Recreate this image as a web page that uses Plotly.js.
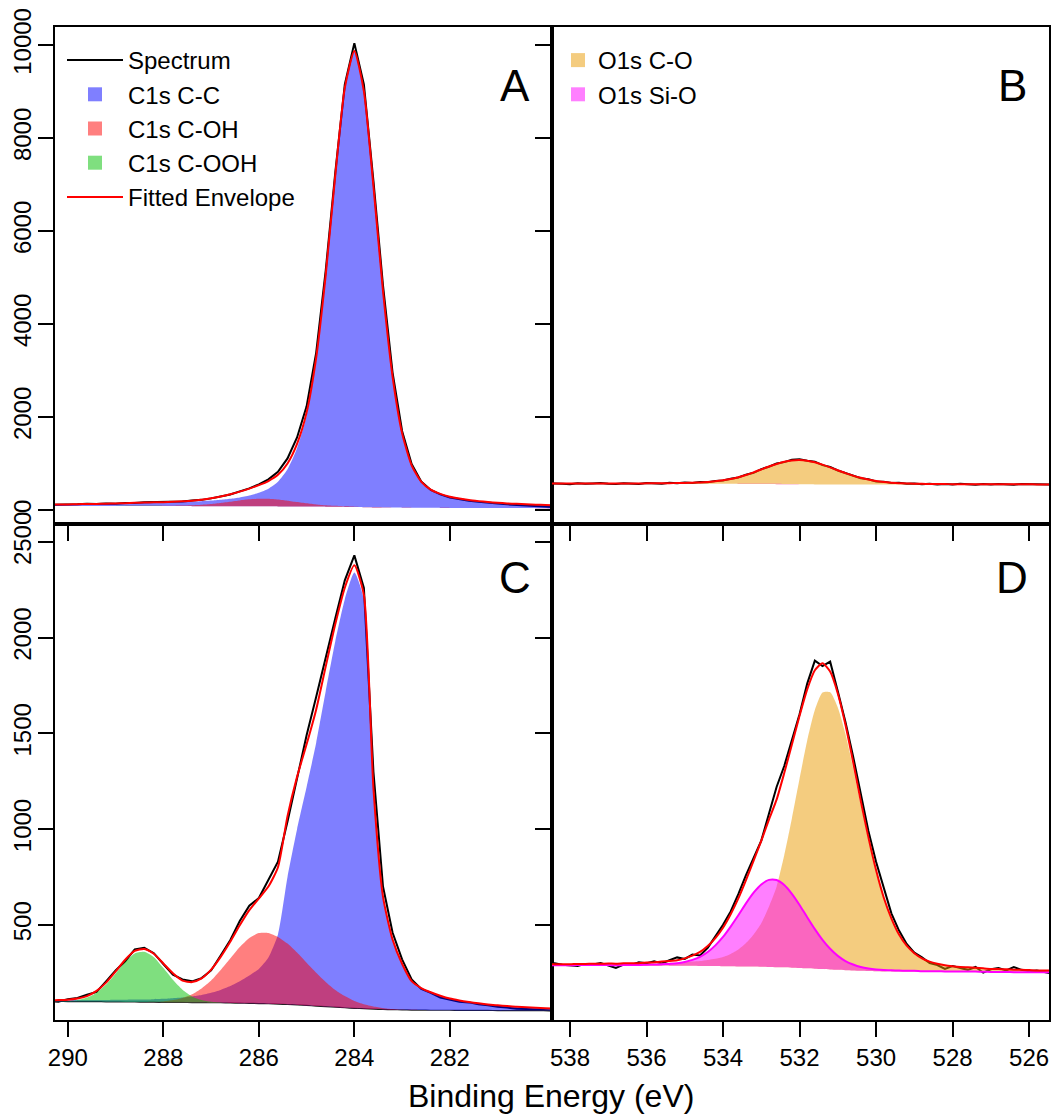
<!DOCTYPE html>
<html><head><meta charset="utf-8">
<script src="https://cdn.plot.ly/plotly-3.0.1.min.js"></script>
<style>html,body{margin:0;padding:0;background:#fff}#chart{width:1055px;height:1118px}</style>
</head><body><div id="chart"></div>
<script>
// ---------- C1s energies (eV) ----------
const c1sEnergy = [290.4,290.2,290.0,289.8,289.6,289.4,289.2,289.0,288.8,288.6,288.4,288.2,288.0,287.8,287.6,287.4,287.2,287.0,286.8,286.6,286.4,286.2,286.0,285.8,285.6,285.4,285.2,285.0,284.8,284.6,284.4,284.2,284.0,283.8,283.6,283.4,283.2,283.0,282.8,282.6,282.4,282.2,282.0,281.8,281.6,281.4,281.2,281.0,280.8,280.6,280.4,280.2,280.0,279.8];
// ---------- O1s energies (eV) ----------
const o1sEnergy = [538.6,538.4,538.2,538.0,537.8,537.6,537.4,537.2,537.0,536.8,536.6,536.4,536.2,536.0,535.8,535.6,535.4,535.2,535.0,534.8,534.6,534.4,534.2,534.0,533.8,533.6,533.4,533.2,533.0,532.8,532.6,532.4,532.2,532.0,531.8,531.6,531.4,531.2,531.0,530.8,530.6,530.4,530.2,530.0,529.8,529.6,529.4,529.2,529.0,528.8,528.6,528.4,528.2,528.0,527.8,527.6,527.4,527.2,527.0,526.8,526.6,526.4,526.2,526.0,525.8,525.6,525.4];

// ---------- Panel A (C1s) ----------
const specA = [110,112,118,122,135,128,140,137,152,150,165,170,166,180,185,205,218,250,288,335,400,465,550,660,820,1110,1560,2230,3380,5150,7250,9150,10040,9150,7080,4830,2960,1700,990,615,430,335,270,232,200,176,152,138,122,110,96,88,74,62];
const envA = [117,119,121,125,128,131,135,141,147,154,160,165,169,177,187,200,222,251,290,338,395,459,534,623,756,1001,1422,2095,3271,5053,7189,9079,9872,9006,6962,4709,2876,1653,961,609,438,347,285,245,214,191,171,156,142,132,123,115,109,103];
const bgA = [85,85,85,85,85,85,85,85,85,85,85,85,84,84,84,83,83,83,82,82,81,81,80,79,78,77,76,75,73,71,68,65,62,59,56,54,52,50,48,47,46,45,44,44,43,43,42,42,41,41,41,40,40,40];
const ccA = [116,118,120,123,126,129,132,136,140,144,149,154,159,165,172,179,190,203,220,242,271,311,370,459,608,877,1326,2025,3223,5021,7168,9065,9862,8999,6956,4704,2872,1650,958,607,436,345,284,244,213,190,170,155,141,131,122,114,108,102];
const cohA = [86,86,86,87,87,87,87,88,88,89,90,91,91,94,98,104,115,131,152,178,205,229,244,243,226,201,172,145,121,103,89,79,72,66,62,59,56,53,51,49,48,47,45,45,44,44,43,43,42,42,42,41,41,41];
const coohA = [85,85,85,85,85,85,86,87,89,91,91,90,87,86,85,83,83,83,82,82,81,81,80,79,78,77,76,75,73,71,68,65,62,59,56,54,52,50,48,47,46,45,44,44,43,43,42,42,41,41,41,40,40,40];

// ---------- Panel C (C1s) ----------
const specC = [102,98,112,118,135,150,205,262,310,372,380,352,295,240,215,205,222,262,340,420,520,600,640,735,830,1040,1270,1490,1690,1900,2100,2300,2430,2260,1300,700,460,320,215,165,145,120,110,98,95,85,80,72,68,62,60,58,55,52];
const envC = [105,107,109,115,128,155,198,257,318,364,374,349,298,247,209,201,220,266,333,412,498,577,638,700,801,1068,1273,1443,1624,1849,2070,2261,2378,2223,1213,647,424,297,206,170,148,130,115,105,97,90,84,80,76,72,70,67,64,62];
const bgC = [100,100,99,99,99,99,98,98,97,97,96,96,95,95,95,94,94,93,93,92,91,90,89,88,86,84,82,79,76,73,70,67,64,62,60,58,57,56,55,55,54,54,54,53,53,53,53,52,52,52,52,52,52,52];
const ccC = [105,106,106,107,107,108,108,109,109,110,110,112,114,117,120,126,133,145,160,180,205,235,270,330,450,750,1000,1220,1450,1720,1980,2200,2340,2200,1200,640,420,295,205,170,148,130,115,105,97,90,84,80,76,72,70,67,64,62];
const cohC = [100,100,99,99,99,99,98,98,97,97,97,98,100,107,118,137,168,209,264,324,384,432,457,458,437,402,355,302,250,202,160,128,102,85,73,65,61,58,56,55,54,54,54,53,53,53,53,52,52,52,52,52,52,52];
const coohC = [100,101,102,107,120,146,188,246,306,351,359,331,274,213,161,126,107,98,95,92,91,90,89,88,86,84,82,79,76,73,70,67,64,62,60,58,57,56,55,55,54,54,54,53,53,53,53,52,52,52,52,52,52,52];

// ---------- Panel B (O1s) ----------
const specB = [560,572,565,555,575,562,570,580,565,558,575,568,560,580,572,566,585,575,590,582,600,598,625,635,672,700,760,800,880,930,1000,1030,1080,1090,1060,1040,965,925,850,790,745,685,660,615,610,580,585,565,572,555,565,550,560,548,562,555,545,560,548,558,550,545,558,552,548,556,550];
const envB = [568,568,568,568,569,569,569,569,570,570,570,571,571,573,574,575,577,579,582,587,593,604,618,640,668,706,754,810,872,935,991,1036,1065,1074,1060,1026,976,917,854,793,739,692,654,625,603,588,577,570,565,562,560,558,557,556,555,554,554,553,553,553,552,552,552,552,551,551,551];
const bgB = [565,565,565,565,565,565,565,565,565,565,565,565,565,565,565,565,565,565,565,565,564,564,563,563,562,561,560,559,558,557,556,555,554,553,552,551,550,549,549,548,548,548,548,548,548,548,548,548,548,548,548,548,548,548,548,548,548,548,548,548,548,548,548,548,548,548,548];
const coB = [568,568,568,568,569,569,569,569,570,570,570,571,571,573,574,575,577,579,582,587,593,604,618,640,668,705,751,804,863,925,982,1030,1062,1073,1060,1026,976,917,854,793,739,692,654,625,603,588,577,570,565,562,560,558,557,556,555,554,554,553,553,553,552,552,552,552,551,551,551];
const sioB = [565,565,565,565,565,565,565,565,565,565,565,565,565,565,565,565,565,565,565,565,564,564,563,563,562,562,563,565,567,567,565,561,557,554,552,551,550,549,549,548,548,548,548,548,548,548,548,548,548,548,548,548,548,548,548,548,548,548,548,548,548,548,548,548,548,548,548];

// ---------- Panel D (O1s) ----------
const specD = [295,300,292,290,285,296,293,300,288,275,292,290,305,300,310,298,315,330,322,345,340,380,440,500,570,660,760,850,940,1080,1220,1330,1470,1600,1760,1880,1852,1875,1720,1560,1380,1180,990,830,700,560,470,400,355,330,300,290,270,285,275,265,280,250,268,275,262,280,265,258,262,255,245];
const envD = [293,294,294,294,296,296,297,297,298,297,299,300,300,303,305,308,311,315,325,339,359,390,431,485,555,638,734,836,939,1050,1154,1293,1442,1592,1730,1830,1867,1823,1709,1545,1351,1147,957,786,643,534,449,391,352,325,308,297,289,284,280,278,276,273,270,269,268,266,265,264,262,262,261];
const bgD = [288,288,288,288,288,288,288,288,288,287,287,287,287,287,287,287,287,286,286,286,285,285,285,284,284,283,283,282,281,280,279,278,276,275,273,271,269,267,265,263,262,260,259,258,257,257,256,256,256,255,255,255,255,255,254,254,254,254,253,253,253,252,252,252,251,251,251];
const coD = [292,293,293,293,294,294,295,295,296,295,296,297,297,298,299,301,302,302,305,308,311,317,323,332,348,371,405,450,509,595,699,863,1056,1263,1463,1623,1714,1715,1636,1497,1320,1127,944,777,636,528,444,387,348,322,305,294,287,282,278,276,274,272,269,268,267,265,264,263,261,261,260];
const sioD = [289,289,289,289,290,290,290,290,290,289,290,290,290,292,293,294,296,299,306,317,333,358,393,437,491,550,612,668,711,735,734,708,662,604,540,478,422,375,338,311,293,280,272,267,264,263,261,260,260,258,258,258,257,257,256,256,256,255,254,254,254,253,253,253,252,252,252];

// ---------- tick labels ----------
const c1sTicks = [290,288,286,284,282];
const o1sTicks = [538,536,534,532,530,528,526];
const topTicks = [0,2000,4000,6000,8000,10000];
const topTickText = ['0','2000','4000','6000','8000','10000'];
const bottomTicks = [500,1000,1500,2000,2500];
const bottomTickText = ['500','1000','1500','2000','2500'];
const panelLabels = ['A','B','C','D'];
const legendNames = {spectrum:'Spectrum', cc:'C1s C-C', coh:'C1s C-OH', cooh:'C1s C-OOH', env:'Fitted Envelope', co:'O1s C-O', sio:'O1s Si-O'};

// ---------- colours ----------
const col = {
  cc:'rgba(0,0,255,0.5)', coh:'rgba(255,0,0,0.5)', cooh:'rgba(0,192,0,0.5)',
  co:'rgba(233,153,0,0.5)', sio:'rgba(255,0,255,0.5)'
};

function band(x, top, base){
  return {x: x.concat(x.slice().reverse()), y: top.concat(base.slice().reverse())};
}
function fillTrace(x, top, base, color, xa, ya){
  const b = band(x, top, base);
  return {type:'scatter', mode:'lines', x:b.x, y:b.y, xaxis:xa, yaxis:ya, fill:'toself',
    fillcolor:color, line:{width:0, color:color, shape:'spline', smoothing:0.6}, showlegend:false, hoverinfo:'skip'};
}
function lineTrace(x, y, color, width, xa, ya, shape, name, legend){
  return {type:'scatter', mode:'lines', x:x, y:y, xaxis:xa, yaxis:ya,
    line:{color:color, width:width, shape:shape||'linear', smoothing:0.6},
    name:name||'', showlegend:!!name, legend:legend||'legend', hoverinfo:'skip'};
}
function legendSquare(name, color, legend){
  return {type:'scatter', mode:'markers', x:[null], y:[null], name:name, legend:legend,
    marker:{symbol:'square', size:14, color:color}, showlegend:true, hoverinfo:'skip'};
}

const traces = [];
// Panel A
traces.push(lineTrace(c1sEnergy, specA, '#000', 2, 'x', 'y', 'linear', legendNames.spectrum, 'legend'));
traces.push(legendSquare(legendNames.cc, col.cc, 'legend'));
traces.push(legendSquare(legendNames.coh, col.coh, 'legend'));
traces.push(legendSquare(legendNames.cooh, col.cooh, 'legend'));
traces.push(fillTrace(c1sEnergy, ccA, bgA, col.cc, 'x', 'y'));
traces.push(fillTrace(c1sEnergy, cohA, bgA, col.coh, 'x', 'y'));
traces.push(fillTrace(c1sEnergy, coohA, bgA, col.cooh, 'x', 'y'));
traces.push(lineTrace(c1sEnergy, envA, '#ff0000', 2, 'x', 'y', 'spline', legendNames.env, 'legend'));
// Panel B
traces.push(legendSquare(legendNames.co, col.co, 'legend2'));
traces.push(legendSquare(legendNames.sio, col.sio, 'legend2'));
traces.push(lineTrace(o1sEnergy, specB, '#000', 2, 'x2', 'y2', 'linear'));
traces.push(fillTrace(o1sEnergy, coB, bgB, col.co, 'x2', 'y2'));
traces.push(fillTrace(o1sEnergy, sioB, bgB, col.sio, 'x2', 'y2'));
traces.push(lineTrace(o1sEnergy, envB, '#ff0000', 2, 'x2', 'y2', 'spline'));
// Panel C
traces.push(lineTrace(c1sEnergy, specC, '#000', 2, 'x3', 'y3', 'linear'));
traces.push(lineTrace(c1sEnergy, bgC, '#222', 1.2, 'x3', 'y3', 'spline'));
traces.push(fillTrace(c1sEnergy, ccC, bgC, col.cc, 'x3', 'y3'));
traces.push(fillTrace(c1sEnergy, cohC, bgC, col.coh, 'x3', 'y3'));
traces.push(fillTrace(c1sEnergy, coohC, bgC, col.cooh, 'x3', 'y3'));
traces.push(lineTrace(c1sEnergy, envC, '#ff0000', 2, 'x3', 'y3', 'spline'));
// Panel D
traces.push(lineTrace(o1sEnergy, specD, '#000', 2, 'x4', 'y4', 'linear'));
traces.push(fillTrace(o1sEnergy, coD, bgD, col.co, 'x4', 'y4'));
traces.push(fillTrace(o1sEnergy, sioD, bgD, col.sio, 'x4', 'y4'));
traces.push(lineTrace(o1sEnergy, sioD, '#ff00ff', 2, 'x4', 'y4', 'spline'));
traces.push(lineTrace(o1sEnergy, envD, '#ff0000', 2, 'x4', 'y4', 'spline'));

const W = 1055, H = 1118;
const xL = [55/W, 552/W], xR = [552/W, 1049/W];
const yT = [1-524/H, 1-27/H], yB = [1-1020/H, 1-524/H];
const font = 'Liberation Sans, Arial, Helvetica, sans-serif';
function axis(extra){
  return Object.assign({
    showline:true, mirror:true, linecolor:'#000', linewidth:2,
    ticks:'outside', ticklen:15, tickwidth:2, tickcolor:'#000',
    showgrid:false, zeroline:false, tickfont:{size:24, family:font, color:'#000'},
    fixedrange:true
  }, extra);
}
const rangeC1s = [290.27, 279.86], rangeO1s = [538.47, 525.48];
const rangeTop = [-301, 10387], rangeBottom = [3, 2594];

const layout = {
  width:W, height:H, margin:{l:0,r:0,t:0,b:0},
  paper_bgcolor:'#fff', plot_bgcolor:'rgba(0,0,0,0)',
  font:{family:font, color:'#000'},
  showlegend:true,
  xaxis: axis({domain:xL, anchor:'y', range:rangeC1s, tickmode:'array', tickvals:c1sTicks, showticklabels:false}),
  yaxis: axis({domain:yT, anchor:'x', range:rangeTop, tickmode:'array', tickvals:topTicks, ticktext:topTickText, tickangle:-90, ticklabelstandoff:-3}),
  xaxis2: axis({domain:xR, anchor:'y2', range:rangeO1s, tickmode:'array', tickvals:o1sTicks, showticklabels:false}),
  yaxis2: axis({domain:yT, anchor:'x2', range:rangeTop, tickmode:'array', tickvals:topTicks, showticklabels:false}),
  xaxis3: axis({domain:xL, anchor:'y3', range:rangeC1s, tickmode:'array', tickvals:c1sTicks}),
  yaxis3: axis({domain:yB, anchor:'x3', range:rangeBottom, tickmode:'array', tickvals:bottomTicks, ticktext:bottomTickText, tickangle:-90, ticklabelstandoff:-3}),
  xaxis4: axis({domain:xR, anchor:'y4', range:rangeO1s, tickmode:'array', tickvals:o1sTicks}),
  yaxis4: axis({domain:yB, anchor:'x4', range:rangeBottom, tickmode:'array', tickvals:bottomTicks, showticklabels:false}),
  legend:{x:62/W, y:1-38/H, xanchor:'left', yanchor:'top', bgcolor:'rgba(0,0,0,0)', borderwidth:0,
    font:{size:24, family:font, color:'#000'}, itemwidth:56, tracegroupgap:0},
  legend2:{x:558/W, y:1-38/H, xanchor:'left', yanchor:'top', bgcolor:'rgba(0,0,0,0)', borderwidth:0,
    font:{size:24, family:font, color:'#000'}, itemwidth:30, tracegroupgap:0},
  annotations:[
    {text:panelLabels[0], x:515/W, y:1-85/H, xref:'paper', yref:'paper', showarrow:false, font:{size:44, family:font}, xanchor:'center', yanchor:'middle'},
    {text:panelLabels[1], x:1012/W, y:1-85/H, xref:'paper', yref:'paper', showarrow:false, font:{size:44, family:font}, xanchor:'center', yanchor:'middle'},
    {text:panelLabels[2], x:515/W, y:1-578/H, xref:'paper', yref:'paper', showarrow:false, font:{size:44, family:font}, xanchor:'center', yanchor:'middle'},
    {text:panelLabels[3], x:1012/W, y:1-578/H, xref:'paper', yref:'paper', showarrow:false, font:{size:44, family:font}, xanchor:'center', yanchor:'middle'},
    {text:'Binding Energy (eV)', x:551/W, y:1-1096/H, xref:'paper', yref:'paper', showarrow:false, font:{size:32, family:font}, xanchor:'center', yanchor:'middle'}
  ]
};

Plotly.newPlot('chart', traces, layout, {staticPlot:true, displayModeBar:false});
</script>
</body></html>
